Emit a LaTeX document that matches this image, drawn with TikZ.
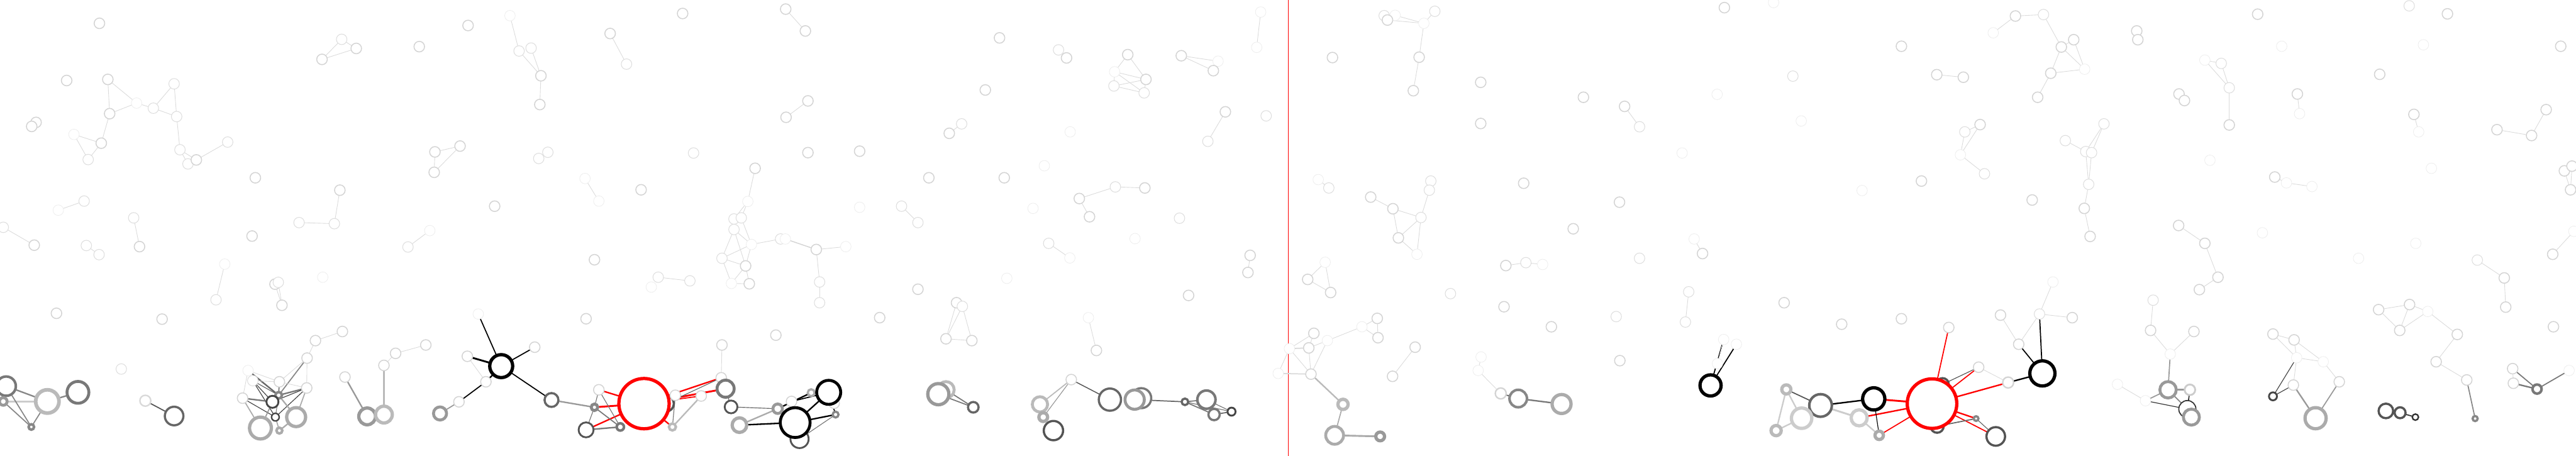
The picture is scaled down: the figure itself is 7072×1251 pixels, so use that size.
\documentclass[tikz,border=0pt]{standalone}
\pgfdeclarelayer{back}
\pgfsetlayers{back,main}
\tikzset{
nd/.style = {circle, fill=white, inner sep=0pt, outer sep=0pt},
lt/.style = {draw=black!17, line width=2.6pt, minimum size=29pt},
md/.style = {draw=black!13, line width=1.8pt, minimum size=29pt},
vl/.style = {draw=black!7, line width=1.3pt, minimum size=29pt},
gr/.style n args = {3}{draw=black!#1, line width=#2pt, minimum size=#3pt},
le/.style = {draw=black!14, line width=1.5pt},
ge/.style n args = {2}{draw=black!#1, line width=#2pt},
re/.style = {draw=red, line width=#1pt},
re/.default = 4
}
\newcommand{\vx}[3][lt]{\node[nd,#1] (#2) at (#3) {};}
\newcommand{\eg}[3][le]{\draw[#1] (#2) -- (#3);}
\begin{document}
\begin{tikzpicture}[x=1pt, y=-1pt]
    \useasboundingbox (0,0) rectangle (7072,1251);

    % ---- upper field, left half
    \vx{t1}{273,64};
    \vx[md]{t2}{938,108};
    \vx{t3}{978,133};
    \vx{t4}{884,163};
    \vx{t5}{1151,128};
    \vx{t6}{183,221};
    \vx{t7}{296,218};
    \vx[md]{t8}{478,230};
    \vx[vl]{t9}{375,283};
    \vx[md]{t10}{421,297};
    \vx{t11}{301,312};
    \vx[md]{t12}{485,320};
    \vx{t13}{99,336};
    \vx{t14}{87,347};
    \vx[vl]{t15}{203,369};
    \vx{t16}{278,393};
    \vx[md]{t17}{242,438};
    \vx[md]{t18}{494,411};
    \vx[md]{t19}{625,390};
    \vx[md]{t21}{516,450};
    \vx{t20}{539,439};
    \vx{t22}{701,488};
    \vx{t23}{933,522};
    \vx[md]{t24}{821,611};
    \vx[md]{t25}{918,614};
    \vx[vl]{t26}{160,577};
    \vx[md]{t27}{231,552};
    \vx[md]{t28}{9,624};
    \vx{t29}{94,673};
    \vx[md]{t30}{367,598};
    \vx{t31}{383,677};
    \vx[md]{t32}{237,674};
    \vx[md]{t33}{272,699};
    \vx{t34}{692,648};
    \vx[vl]{t35}{617,725};
    \vx[md]{t36}{593,823};
    \vx{t37}{755,780};
    \vx[md]{t38}{764,775};
    \vx{c0}{774,838};
    \vx[vl]{t40}{886,761};
    \vx[md]{t41}{1120,678};
    \vx[vl]{t42}{1180,633};

    \vx{u1}{1285,70};
    \vx[vl]{u2}{1400,43};
    \vx[md]{u3}{1425,140};
    \vx[md]{u4}{1458,132};
    \vx{u5}{1485,208};
    \vx{u6}{1482,287};
    \vx{u7}{1675,92};
    \vx[md]{u8}{1720,176};
    \vx{u9}{1874,37};
    \vx{u10}{2157,25};
    \vx{u11}{2211,85};
    \vx{u12}{2218,277};
    \vx{u13}{2158,322};
    \vx{u14}{1194,417};
    \vx{u15}{1263,401};
    \vx{u16}{1192,473};
    \vx[md]{u17}{1504,418};
    \vx[md]{u18}{1479,435};
    \vx[md]{u19}{1904,420};
    \vx{u20}{2218,419};
    \vx{u21}{2360,415};
    \vx[vl]{u22}{1606,490};
    \vx[vl]{u23}{1644,552};
    \vx{u24}{1760,521};
    \vx{u25}{1358,566};
    \vx{u26}{2073,462};
    \vx[vl]{u27}{2053,553};
    \vx[md]{u28}{2015,601};
    \vx[md]{u29}{2035,598};
    \vx[md]{u30}{2015,630};
    \vx[vl]{u31}{2063,671};
    \vx[md]{u32}{2143,656};
    \vx[vl]{u33}{2156,656};
    \vx{u34}{2241,685};
    \vx[vl]{u35}{2322,677};
    \vx[md]{u36}{1982,709};
    \vx{u37}{2047,730};
    \vx[vl]{u38}{2008,778};
    \vx{u39}{2057,779};
    \vx[md]{u40}{2250,774};
    \vx[md]{u41}{2250,831};
    \vx[vl]{u42}{2360,569};
    \vx{u43}{1632,713};
    \vx[md]{u44}{1807,761};
    \vx[md]{u45}{1894,771};
    \vx[vl]{u46}{1788,788};

    \vx{v1}{2744,104};
    \vx[md]{v2}{2906,137};
    \vx{v3}{2928,159};
    \vx{v4}{3096,150};
    \vx[vl]{v5}{3060,197};
    \vx{v6}{3146,218};
    \vx[md]{v7}{3058,236};
    \vx[md]{v8}{3141,255};
    \vx{v9}{3243,153};
    \vx[vl]{v10}{3344,168};
    \vx{v11}{3331,194};
    \vx[vl]{v12}{3461,33};
    \vx[vl]{v13}{3450,130};
    \vx{v14}{2705,247};
    \vx[md]{v15}{2640,340};
    \vx{v16}{2606,366};
    \vx[vl]{v17}{2938,362};
    \vx{v18}{3364,307};
    \vx[md]{v19}{3316,388};
    \vx[md]{v20}{3476,318};
    \vx[vl]{v21}{2867,455};
    \vx{v22}{2550,488};
    \vx{v23}{2757,488};
    \vx[md]{v24}{3062,513};
    \vx{v25}{3143,516};
    \vx{v26}{2963,545};
    \vx{v27}{2991,595};
    \vx[vl]{v28}{2836,572};
    \vx[md]{v29}{3238,599};
    \vx[md]{v30}{2475,566};
    \vx[md]{v31}{2520,611};
    \vx[vl]{v32}{3116,655};
    \vx[md]{v33}{2879,668};
    \vx[vl]{v34}{2937,708};
    \vx{v35}{3432,701};
    \vx{v36}{3426,748};
    \vx[vl]{v37}{2764,764};
    \vx{v38}{2520,794};
    \vx{v39}{3263,811};

    % ---- lower band, left half
    \vx{b4}{155,860};
    \vx{b5}{445,876};
    \vx[md]{b1}{333,1013};
    \vx[gr={15}{4}{30}]{b2}{399,1100};
    \vx[gr={60}{6}{51}]{b3}{478,1142};

    \vx[gr={53}{7}{53}]{a1}{17,1060};
    \vx[gr={40}{8}{21}]{a2}{9,1102};
    \vx[gr={27}{10}{64}]{a3}{130,1102};
    \vx[gr={53}{8}{60}]{a4}{214,1077};
    \vx[gr={47}{7}{15}]{a5}{86,1172};

    \vx[vl]{c1}{681,1017};
    \vx[md]{c2}{694,1045};
    \vx{c3}{767,1048};
    \vx{c4}{842,1065};
    \vx{c5}{666,1093};
    \vx[gr={47}{7}{18}]{c6}{765,1085};
    \vx[gr={73}{5}{33}]{c7}{748,1103};
    \vx[gr={73}{4}{21}]{c8}{756,1145};
    \vx[gr={33}{9}{52}]{c9}{813,1145};
    \vx[gr={33}{9}{60}]{c10}{715,1175};
    \vx[gr={33}{7}{16}]{c11}{767,1182};
    \vx{c12}{843,983};
    \vx{c13}{866,935};
    \vx{c14}{940,910};

    \vx{d1}{947,1035};
    \vx[gr={40}{9}{46}]{d2}{1008,1143};
    \vx{d3}{1054,1003};
    \vx[gr={27}{9}{46}]{d4}{1054,1138};
    \vx{d5}{1086,970};
    \vx{d6}{1169,947};

    \vx[gr={40}{8}{36}]{e1}{1208,1135};
    \vx{e2}{1260,1103};
    \vx{e3}{1334,1048};
    \vx{e4}{1283,978};
    \vx[gr={100}{9}{63}]{e5}{1376,1005};
    \vx{e6}{1468,953};
    \vx[vl]{e7}{1313,862};
    \vx[gr={60}{6}{38}]{e8}{1514,1098};
    \vx{e9}{1609,875};
    \vx{e10}{2130,920};

    \vx[gr={47}{8}{18}]{f1}{1632,1118};
    \vx{f2}{1644,1070};
    \vx[gr={67}{5}{41}]{f3}{1609,1180};
    \vx[gr={53}{7}{20}]{f4}{1703,1172};
    \vx[gr={67}{6}{44}]{f5}{1828,1108};
    \vx[gr={0}{9}{138}, draw=red]{R1}{1768,1108};
    \vx{f6}{1854,1085};
    \vx[gr={27}{7}{19}]{f7}{1846,1172};
    \vx{f8}{1925,1087};
    \vx{f9}{1980,1037};
    \vx{f10}{1982,947};
    \vx[gr={53}{8}{47}]{f11}{1992,1067};
    \vx[gr={67}{5}{35}]{f12}{2007,1117};
    \vx[gr={33}{9}{40}]{f13}{2030,1167};
    \vx[gr={40}{8}{26}]{f14}{2135,1122};
    \vx{f15}{2173,1102};
    \vx[gr={33}{6}{19}]{f16}{2227,1078};
    \vx{f21}{2290,1107};
    \vx[gr={100}{8}{66}]{f17}{2275,1077};
    \vx[gr={67}{5}{50}]{f19}{2195,1205};
    \vx[gr={100}{8}{82}]{f18}{2183,1160};
    \vx[gr={47}{6}{16}]{f20}{2294,1138};

    \vx{g1}{2415,872};
    \vx{g2b}{2626,831};
    \vx[md]{g2}{2642,841};
    \vx{g3}{2597,930};
    \vx{g4}{2668,935};
    \vx[vl]{g5}{2988,872};
    \vx{g6}{3010,962};
    \vx[gr={27}{8}{45}]{g7}{2597,1070};
    \vx[gr={40}{9}{58}]{g8}{2576,1082};
    \vx[gr={60}{6}{29}]{g9}{2672,1118};
    \vx{g10}{2941,1042};
    \vx[gr={27}{8}{42}]{g11}{2855,1110};
    \vx[gr={33}{9}{24}]{g12}{2864,1145};
    \vx[gr={67}{6}{53}]{g13}{2892,1182};
    \vx[gr={60}{6}{61}]{g14}{3047,1097};
    \vx[gr={53}{6}{55}]{g15}{3133,1093};
    \vx[gr={40}{8}{53}]{g16}{3115,1097};
    \vx[gr={60}{6}{18}]{g17}{3253,1103};
    \vx[gr={53}{7}{50}]{g18}{3312,1097};
    \vx[gr={53}{6}{31}]{g19}{3333,1138};
    \vx[gr={73}{5}{22}]{g20}{3381,1130};

    % ---- upper field, right half
    \vx[md]{w1}{3800,43};
    \vx[vl]{w2}{3830,42};
    \vx{w3}{3809,55};
    \vx[vl]{w4}{3909,64};
    \vx[md]{w5}{3939,31};
    \vx{w6}{3896,157};
    \vx{w7}{3880,249};
    \vx{w8}{3658,158};
    \vx{w9}{4065,226};
    \vx{w10}{4065,339};
    \vx{w11}{4347,267};
    \vx{w12}{4460,292};
    \vx[md]{w13}{4501,348};
    \vx{w14}{4734,21};
    \vx[vl]{w15}{4714,259};
    \vx[vl]{w16}{4618,420};
    \vx[vl]{w17}{3619,493};
    \vx[md]{w18}{3648,516};
    \vx[md]{w19}{3928,497};
    \vx[md]{w20}{3924,522};
    \vx{w21}{3763,541};
    \vx{w22}{3824,573};
    \vx[md]{w23}{3901,597};
    \vx{w24}{3839,653};
    \vx[vl]{w25}{3890,698};
    \vx{w26}{4183,503};
    \vx{w27}{4446,555};
    \vx{w28}{4319,628};
    \vx[vl]{w29}{4651,656};
    \vx{w30}{4674,696};
    \vx[md]{w31}{4501,709};
    \vx[vl]{w32}{3638,720};
    \vx{w33}{3590,767};
    \vx{w34}{3653,803};
    \vx[md]{w35}{3982,806};
    \vx{w36}{4134,729};
    \vx[md]{w37}{4189,721};
    \vx[vl]{w38}{4235,726};
    \vx[md]{w39}{4636,801};

    \vx[vl]{x1}{4869,7};
    \vx{x2}{5533,44};
    \vx[md]{x3}{5610,40};
    \vx[vl]{x4}{5472,90};
    \vx{x5}{5693,109};
    \vx{x6}{5659,129};
    \vx[vl]{x7}{5723,190};
    \vx{x8}{5630,201};
    \vx{x9}{5594,267};
    \vx{x10}{5866,85};
    \vx{x11}{5869,109};
    \vx{x12}{5220,127};
    \vx{x13}{5317,205};
    \vx{x14}{5390,212};
    \vx[md]{x15}{4922,209};
    \vx[vl]{x16}{4945,332};
    \vx{x17}{5436,342};
    \vx[md]{x18}{5394,362};
    \vx[vl]{x19}{5382,425};
    \vx[md]{x20}{5448,477};
    \vx{x21}{5275,497};
    \vx[vl]{x22}{5112,523};
    \vx[md]{x23}{5776,340};
    \vx[md]{x24}{5670,386};
    \vx[md]{x25}{5726,416};
    \vx[md]{x26}{5742,419};
    \vx[md]{x27}{5734,506};
    \vx{x28}{5722,572};
    \vx{x29}{5738,649};
    \vx{x30}{5579,549};
    \vx{x31}{4898,831};
    \vx[vl]{x32}{5636,774};
    \vx[md]{x33}{5911,824};

    \vx{y1}{6198,39};
    \vx[md]{y2}{6614,16};
    \vx{y3}{6719,38};
    \vx[vl]{y4}{6264,127};
    \vx[vl]{y5}{6653,123};
    \vx{y6}{7030,127};
    \vx[vl]{y7}{6053,165};
    \vx[md]{y8}{6098,174};
    \vx[md]{y9}{6120,241};
    \vx{y10}{6120,343};
    \vx{y11}{5982,258};
    \vx{y12}{5997,276};
    \vx{y13}{6307,258};
    \vx[vl]{y14}{6313,312};
    \vx{y15}{6533,204};
    \vx{y16}{6627,314};
    \vx[vl]{y17}{6640,362};
    \vx{y18}{6990,301};
    \vx{y19}{6855,356};
    \vx{y20}{6950,372};
    \vx[vl]{y21}{6067,440};
    \vx{y22}{6245,486};
    \vx[vl]{y23}{6277,502};
    \vx[vl]{y24}{6347,512};
    \vx[vl]{y25}{6675,462};
    \vx{y26}{7040,469};
    \vx{y27}{7061,456};
    \vx{y28}{7057,521};
    \vx{y29}{5981,619};
    \vx{y30}{6053,668};
    \vx{y31}{6089,761};
    \vx{y32}{6038,795};
    \vx[vl]{y33}{6211,639};
    \vx[vl]{y34}{6475,709};
    \vx[vl]{y35}{6632,668};
    \vx[md]{y36}{6801,714};
    \vx{y37}{6875,763};
    \vx{y38}{7008,698};
    \vx[vl]{y39}{7066,635};

    % ---- lower band, right half
    \vx{h1}{3607,915};
    \vx{h2}{3593,955};
    \vx[vl]{h3}{3540,957};
    \vx[vl]{h4}{3509,1025};
    \vx{h5}{3599,1027};
    \vx[vl]{h6}{3644,935};
    \vx[vl]{h7}{3739,897};
    \vx{h8}{3781,874};
    \vx{h9}{3783,927};
    \vx{h10}{3885,953};
    \vx{h11}{3823,1033};
    \vx[gr={27}{9}{28}]{h12}{3687,1110};
    \vx[gr={33}{8}{49}]{h13}{3664,1195};
    \vx[gr={40}{9}{24}]{h14}{3789,1198};

    \vx{h15}{4129,842};
    \vx{h16}{4259,897};
    \vx[md]{h17}{4437,869};
    \vx[md]{h18}{4627,884};
    \vx{h19}{4447,990};
    \vx[vl]{h20}{4066,980};
    \vx[vl]{h21}{4058,1017};
    \vx[gr={17}{4}{30}]{h22}{4120,1080};
    \vx[gr={47}{7}{48}]{h23}{4168,1094};
    \vx[gr={33}{9}{52}]{h24}{4287,1109};

    \vx[vl]{k1}{4732,932};
    \vx[vl]{k2}{4767,945};
    \vx[vl]{k3}{4715,998};
    \vx[gr={100}{9}{58}]{k0}{4696,1058};

    \vx{k4}{5056,890};
    \vx{k5}{5220,875};
    \vx{k6}{5350,899};
    \vx{k7}{5492,865};
    \vx[md]{k8}{5599,862};
    \vx{k9}{5689,872};
    \vx{k10}{5542,945};
    \vx[gr={100}{9}{69}]{k11}{5607,1025};
    \vx{k12}{5432,1008};
    \vx[gr={17}{4}{30}]{k13}{5513,1050};
    \vx[vl]{k14}{5813,1055};
    \vx[vl]{k15}{5890,1100};
    \vx{k16}{5904,907};
    \vx[gr={67}{6}{34}]{k17}{5333,1055};
    \vx[gr={67}{6}{36}]{k18}{5318,1170};
    \vx[gr={0}{9}{136}, draw=red]{R2}{5304,1108};
    \vx[gr={100}{9}{61}]{k19}{5144,1095};
    \vx[gr={60}{7}{62}]{k20}{4998,1113};
    \vx[gr={27}{9}{25}]{k21}{4904,1069};
    \vx[gr={20}{9}{56}]{k22}{4946,1148};
    \vx[gr={27}{9}{28}]{k23}{4876,1182};
    \vx[gr={20}{9}{44}]{k24}{5104,1147};
    \vx[gr={33}{9}{23}]{k25}{5159,1195};
    \vx[gr={47}{6}{13}]{k26}{5425,1149};
    \vx[gr={67}{6}{51}]{k27}{5479,1198};

    \vx{m1}{6023,910};
    \vx[vl]{m2}{5958,972};
    \vx[gr={40}{8}{45}]{m3}{5952,1070};
    \vx[gr={20}{5}{29}]{m4}{6012,1070};
    \vx[gr={80}{3}{47}]{m5}{6005,1123};
    \vx[gr={40}{8}{44}]{m6}{6016,1145};

    \vx{m8}{6240,917};
    \vx{m9}{6298,933};
    \vx[vl]{m10}{6305,982};
    \vx[vl]{m11}{6378,993};
    \vx{m12}{6296,1057};
    \vx{m13}{6422,1048};
    \vx[gr={73}{5}{22}]{m14}{6240,1088};
    \vx[gr={33}{9}{58}]{m15}{6357,1148};

    \vx{m16}{6530,850};
    \vx{m17}{6615,836};
    \vx[vl]{m18}{6665,855};
    \vx{m19}{6588,907};
    \vx{m20}{6746,918};
    \vx{m21}{6688,993};
    \vx{m22}{6772,1043};
    \vx[gr={47}{6}{14}]{m23}{6795,1149};

    \vx[gr={67}{6}{40}]{m24}{6550,1128};
    \vx[gr={67}{6}{30}]{m25}{6589,1133};
    \vx[gr={80}{4}{17}]{m26}{6631,1145};

    \vx{m27}{6879,843};
    \vx{m28}{7010,897};
    \vx{m29}{6898,1012};
    \vx{m30}{6900,1052};
    \vx[gr={53}{7}{25}]{m31}{6965,1068};
    \vx[vl]{m32}{7053,1017};

    % ---- all connectors, behind the rings
    \begin{pgfonlayer}{back}
    \fill[white] (0,0) rectangle (7072,1251);
    \coordinate (st) at (3536,0);
    \coordinate (sb) at (3536,1251);
    \draw[red, line width=1.6pt] (st) -- (sb);

    \eg{t2}{t3}; \eg{t2}{t4}; \eg{t4}{t3};
    \eg{t7}{t9}; \eg{t7}{t11}; \eg{t11}{t9}; \eg{t9}{t10};
    \eg{t10}{t8}; \eg{t10}{t12}; \eg{t8}{t12}; \eg{t12}{t18};
    \eg{t11}{t16}; \eg{t16}{t15}; \eg{t15}{t17}; \eg{t16}{t17};
    \eg{t18}{t20}; \eg{t18}{t21}; \eg{t20}{t19};
    \eg{t23}{t25}; \eg{t25}{t24}; \eg{t26}{t27}; \eg{t28}{t29};
    \eg{t30}{t31}; \eg{t32}{t33}; \eg{t35}{t36};
    \eg{t37}{c0}; \eg{t38}{c0}; \eg{t41}{t42};

    \eg{u2}{u3}; \eg{u3}{u5}; \eg{u4}{u5}; \eg{u5}{u6};
    \eg{u7}{u8}; \eg{u10}{u11}; \eg{u12}{u13};
    \eg{u14}{u15}; \eg{u14}{u16}; \eg{u15}{u16}; \eg{u22}{u23};
    \eg{u26}{u27}; \eg{u27}{u28}; \eg{u27}{u29}; \eg{u29}{u31};
    \eg{u30}{u31}; \eg{u30}{u36}; \eg{u30}{u37}; \eg{u36}{u31};
    \eg{u36}{u37}; \eg{u31}{u37}; \eg{u36}{u38}; \eg{u37}{u38};
    \eg{u38}{u39}; \eg{u37}{u39}; \eg{u31}{u32};
    \eg[ge={17}{2.5}]{u33}{u34}; \eg{u34}{u35}; \eg{u34}{u40}; \eg{u40}{u41};
    \eg{u44}{u45};

    \eg{v4}{v5}; \eg{v4}{v6}; \eg{v5}{v6}; \eg{v5}{v7}; \eg{v7}{v6};
    \eg{v7}{v8}; \eg{v5}{v8}; \eg{v6}{v8};
    \eg{v9}{v10}; \eg{v9}{v11}; \eg{v12}{v13}; \eg{v18}{v19}; \eg{v15}{v16};
    \eg{v24}{v25}; \eg{v24}{v26}; \eg{v26}{v27}; \eg{v30}{v31};
    \eg{v33}{v34}; \eg{v35}{v36};

    \eg[ge={67}{3}]{b2}{b3};
    \eg[ge={47}{4}]{a1}{a3}; \eg[ge={20}{6}]{a2}{a3}; \eg[ge={47}{4}]{a3}{a4};
    \eg[ge={47}{3}]{a1}{a5}; \eg[ge={47}{3}]{a2}{a5}; \eg[ge={47}{3}]{a3}{a5};

    \eg{c14}{c13}; \eg{c13}{c12}; \eg{c12}{c3}; \eg{c12}{c4};
    \eg[ge={47}{3}]{c12}{c6}; \eg{c1}{c3}; \eg{c1}{c5}; \eg[ge={60}{4}]{c1}{c6};
    \eg{c2}{c3}; \eg[ge={73}{2}]{c2}{c7}; \eg[ge={73}{2}]{c2}{c8}; \eg[ge={60}{2}]{c2}{c6};
    \eg{c3}{c4}; \eg[ge={73}{2}]{c3}{c6}; \eg[ge={53}{4}]{c4}{c6}; \eg[ge={73}{2}]{c4}{c7};
    \eg[ge={73}{2}]{c4}{c8}; \eg[ge={33}{3}]{c4}{c9}; \eg[ge={53}{4}]{c5}{c7};
    \eg[ge={73}{2}]{c5}{c8}; \eg[ge={33}{3}]{c5}{c10}; \eg[ge={60}{3}]{c6}{c7};
    \eg[ge={33}{4}]{c6}{c9}; \eg[ge={40}{3}]{c7}{c10}; \eg[ge={33}{3}]{c8}{c11};
    \eg[ge={33}{4}]{c9}{c11}; \eg[ge={47}{2}]{c6}{c8};

    \eg[ge={40}{4}]{d1}{d2}; \eg[ge={27}{4}]{d3}{d4}; \eg{d3}{d5}; \eg{d5}{d6};

    \eg[ge={40}{3}]{e1}{e2}; \eg[ge={100}{3}]{e2}{e3}; \eg[ge={100}{4}]{e5}{e3};
    \eg[ge={100}{3}]{e5}{e7}; \eg[ge={100}{5}]{e5}{e4}; \eg[ge={100}{3}]{e5}{e6};
    \eg[ge={100}{3}]{e5}{e8}; \eg{e4}{e3};

    \eg[ge={40}{4}]{e8}{f1};
    \eg[re]{R1}{f2}; \eg[re=5]{R1}{f1}; \eg[re]{R1}{f3}; \eg[re]{R1}{f7};
    \eg[re]{R1}{f9}; \eg[re=5]{R1}{f11}; \eg[re=3]{R1}{f8};
    \eg[ge={53}{2}]{f1}{f2}; \eg[ge={53}{2}]{f1}{f3}; \eg[ge={53}{3}]{f1}{f4};
    \eg[ge={53}{2}]{f2}{f4}; \eg[ge={53}{4}]{f3}{f4}; \eg[ge={60}{2}]{f5}{f9};
    \eg[ge={53}{2}]{f6}{f7}; \eg[ge={27}{4}]{f8}{f7}; \eg{f9}{f10}; \eg{f9}{f11};
    \eg[ge={60}{2}]{f11}{f12}; \eg[ge={60}{2}]{f12}{f14}; \eg[ge={33}{4}]{f14}{f13};
    \eg[ge={100}{4}]{f13}{f18}; \eg[ge={100}{4}]{f14}{f16}; \eg[ge={100}{3}]{f16}{f17};
    \eg[ge={100}{3}]{f15}{f17}; \eg[ge={100}{4}]{f18}{f17}; \eg[ge={100}{4}]{f18}{f20};
    \eg[ge={100}{3}]{f17}{f20}; \eg[ge={53}{2}]{f20}{f19}; \eg[ge={100}{3}]{f15}{f18};

    \eg{g2}{g3}; \eg{g2}{g4}; \eg{g3}{g4}; \eg{g2b}{g3}; \eg{g5}{g6};
    \eg[ge={53}{3}]{g8}{g9}; \eg[ge={53}{3}]{g7}{g9};
    \eg[ge={27}{3}]{g10}{g11}; \eg[ge={40}{2}]{g10}{g12}; \eg[ge={67}{2.5}]{g10}{g14};
    \eg[ge={60}{3}]{g16}{g17}; \eg[ge={53}{3}]{g17}{g18}; \eg[ge={53}{3}]{g17}{g19};
    \eg[ge={53}{2}]{g17}{g20}; \eg[ge={53}{2}]{g18}{g20}; \eg[ge={60}{3}]{g19}{g20};

    \eg{w2}{w4}; \eg{w3}{w4}; \eg{w4}{w5}; \eg{w4}{w6}; \eg{w6}{w7};
    \eg{w12}{w13}; \eg{w17}{w18}; \eg{w21}{w22}; \eg{w22}{w23}; \eg{w22}{w24};
    \eg{w23}{w20}; \eg{w23}{w24}; \eg{w23}{w25}; \eg{w24}{w25};
    \eg{w36}{w37}; \eg{w37}{w38}; \eg{w29}{w30};
    \eg{w32}{w33}; \eg{w32}{w34}; \eg{w33}{w34};

    \eg{x2}{x3}; \eg{x2}{x4}; \eg{x3}{x6}; \eg{x6}{x5}; \eg{x6}{x8};
    \eg{x6}{x7}; \eg{x5}{x7}; \eg{x8}{x7}; \eg{x8}{x9}; \eg{x13}{x14};
    \eg{x17}{x18}; \eg{x17}{x19}; \eg{x18}{x19}; \eg{x19}{x20};
    \eg{x24}{x25}; \eg{x23}{x25}; \eg{x23}{x26}; \eg{x25}{x27}; \eg{x26}{x27};
    \eg{x27}{x28}; \eg{x28}{x29};

    \eg{y7}{y8}; \eg{y7}{y9}; \eg{y8}{y9}; \eg{y9}{y10}; \eg{y13}{y14};
    \eg{y16}{y17}; \eg{y19}{y20}; \eg{y20}{y18}; \eg{y26}{y28}; \eg{y27}{y28};
    \eg{y29}{y30}; \eg{y30}{y31}; \eg{y31}{y32}; \eg{y22}{y23}; \eg{y23}{y24};
    \eg{y36}{y37}; \eg{y38}{y39};

    \eg{h3}{h1}; \eg[ge={15}{3}]{h3}{h2}; \eg{h3}{h4}; \eg{h3}{h5}; \eg{h1}{h2};
    \eg{h2}{h6}; \eg{h2}{h5}; \eg{h6}{h5}; \eg{h6}{h7}; \eg{h7}{h8}; \eg{h7}{h9};
    \eg{h8}{h9}; \eg[ge={27}{4}]{h5}{h12}; \eg[ge={33}{3}]{h12}{h13};
    \eg[ge={33}{5}]{h13}{h14}; \eg{h10}{h11}; \eg[ge={15}{3}]{h4}{h5};
    \eg{w39}{h18}; \eg{h20}{h21}; \eg{h21}{h22};
    \eg[ge={60}{3}]{h22}{h23}; \eg[ge={53}{4}]{h23}{h24};

    \eg[ge={100}{3}]{k0}{k1}; \eg[ge={100}{3}]{k0}{k2}; \eg[ge={7}{1.2}]{k1}{k3};
    \eg[re=3]{R2}{k6}; \eg[re=3]{R2}{k12}; \eg[re]{R2}{k13}; \eg[re=5]{R2}{k19};
    \eg[re]{R2}{k24}; \eg[re=3]{R2}{k25}; \eg[re]{R2}{k26}; \eg[re=3]{R2}{k27};
    \eg[ge={67}{2}]{k17}{k12}; \eg[ge={60}{3}]{k18}{k26}; \eg[ge={60}{2}]{k26}{k27};
    \eg{k12}{k13}; \eg[ge={100}{4}]{k13}{k11}; \eg[ge={100}{3}]{k11}{k8};
    \eg[ge={100}{3}]{k11}{k10}; \eg{k10}{k8}; \eg{k10}{k7}; \eg{k8}{k9};
    \eg{x32}{k8}; \eg{x33}{k16};
    \eg[ge={100}{4}]{k19}{k20}; \eg[ge={100}{2}]{k19}{k25}; \eg[ge={67}{3}]{k20}{k21};
    \eg[ge={20}{5}]{k20}{k24}; \eg[ge={20}{4}]{k24}{k25}; \eg[ge={20}{4}]{k21}{k22};
    \eg[ge={20}{4}]{k21}{k23}; \eg[ge={20}{4}]{k23}{k22}; \eg{k14}{k15};

    \eg{k16}{m2}; \eg{m1}{m2}; \eg[ge={40}{3}]{m2}{m3}; \eg[ge={40}{5}]{m3}{m4};
    \eg[ge={40}{3}]{m3}{k15}; \eg[ge={80}{2}]{k15}{m5}; \eg[ge={47}{3}]{m3}{m5};
    \eg[ge={80}{3}]{m4}{m5};
    \eg{m8}{m9}; \eg{m8}{m10}; \eg{m9}{m10}; \eg{m9}{m11}; \eg{m10}{m11};
    \eg{m10}{m12}; \eg[ge={73}{2}]{m10}{m14}; \eg[ge={73}{2}]{m12}{m14};
    \eg[ge={40}{4}]{m12}{m15}; \eg{m11}{m13}; \eg[ge={40}{3}]{m13}{m15};
    \eg{m16}{m17}; \eg{m16}{m19}; \eg{m17}{m19}; \eg{m17}{m18}; \eg{m18}{m19};
    \eg{m18}{m20}; \eg{m20}{m21}; \eg{m21}{m22}; \eg[ge={47}{3}]{m22}{m23};
    \eg[ge={80}{3}]{m25}{m26};
    \eg{y37}{m27}; \eg[ge={53}{3}]{m29}{m31}; \eg[ge={53}{4}]{m30}{m31};
    \eg{m29}{m30}; \eg[ge={53}{3}]{m31}{m32};
    \end{pgfonlayer}
\end{tikzpicture}
\end{document}
